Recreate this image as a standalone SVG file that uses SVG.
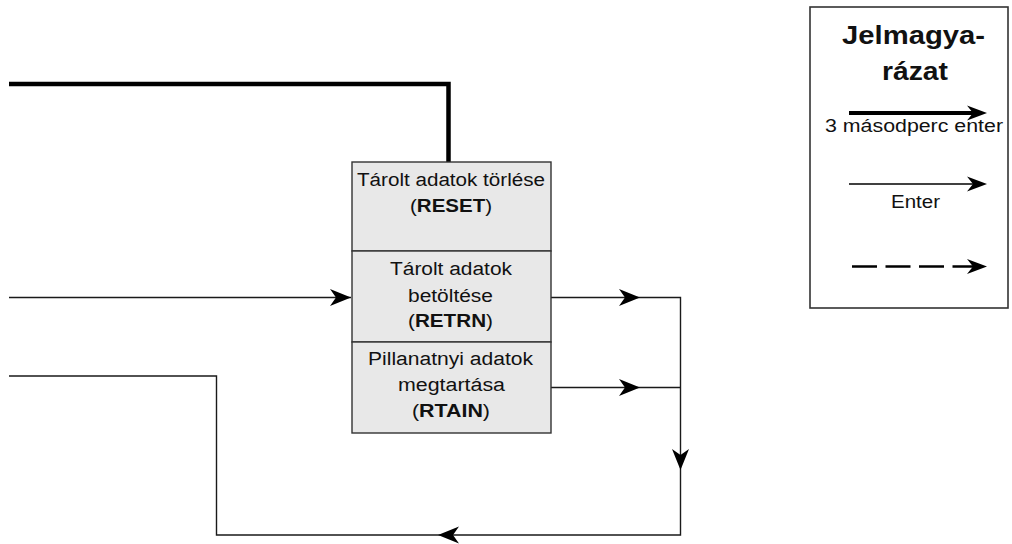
<svg xmlns="http://www.w3.org/2000/svg" xmlns:xlink="http://www.w3.org/1999/xlink" width="1012" height="544" viewBox="0 0 1012 544">
  <style>
    text { font-family: "Liberation Sans", Arial, Helvetica, sans-serif; fill: #111; }
    .lbl { font-size: 18px; }
    .leg { font-size: 17.5px; }
    .title { font-size: 25px; font-weight: bold; }
    b, .b { font-weight: bold; }
    .wire { fill: none; stroke: #1a1a1a; stroke-width: 1.4; }
    .thick { fill: none; stroke: #000; stroke-width: 4.5; }
    .cell { fill: #e8e8e8; stroke: #333; stroke-width: 1.4; }
  </style>
  <defs>
    <!-- notched arrowhead, tip at origin pointing +x -->
    <path id="head" d="M0,0 L-21,-8.5 L-15,0 L-21,8.5 Z" fill="#000"/>
    <path id="headS" d="M0,0 L-20,-7.5 L-14,0 L-20,7.5 Z" fill="#000"/>
  </defs>

  <rect width="1012" height="544" fill="#fff"/>

  <!-- connectors -->
  <g id="connectors">
    <polyline class="thick" points="9,84 448.5,84 448.5,162"/>
    <path class="wire" d="M9,297.5 H351"/>
    <path class="wire" d="M551,297.5 H680.5 V535 H216.5 V376 H9"/>
    <path class="wire" d="M551,387.5 H680.5"/>
    <use xlink:href="#head" transform="translate(351,297.5)"/>
    <use xlink:href="#head" transform="translate(640,297.5)"/>
    <use xlink:href="#head" transform="translate(640,387.5)"/>
    <use xlink:href="#head" transform="translate(680.5,470) rotate(90)"/>
    <use xlink:href="#head" transform="translate(438,535) rotate(180)"/>
  </g>

  <!-- register block -->
  <g id="reset">
    <rect class="cell" x="352" y="162" width="199" height="89"/>
    <text class="lbl" x="357" y="185.5" textLength="188" lengthAdjust="spacingAndGlyphs">Tárolt adatok törlése</text>
    <text class="lbl" x="410" y="212" textLength="82" lengthAdjust="spacingAndGlyphs">(<tspan class="b">RESET</tspan>)</text>
  </g>
  <g id="retrn">
    <rect class="cell" x="352" y="251" width="199" height="91"/>
    <text class="lbl" x="390" y="275" textLength="122" lengthAdjust="spacingAndGlyphs">Tárolt adatok</text>
    <text class="lbl" x="408" y="301.5" textLength="85" lengthAdjust="spacingAndGlyphs">betöltése</text>
    <text class="lbl" x="408" y="327" textLength="85" lengthAdjust="spacingAndGlyphs">(<tspan class="b">RETRN</tspan>)</text>
  </g>
  <g id="rtain">
    <rect class="cell" x="352" y="342" width="199" height="91"/>
    <text class="lbl" x="368" y="365" textLength="165" lengthAdjust="spacingAndGlyphs">Pillanatnyi adatok</text>
    <text class="lbl" x="398" y="390.5" textLength="107" lengthAdjust="spacingAndGlyphs">megtartása</text>
    <text class="lbl" x="412" y="417" textLength="78" lengthAdjust="spacingAndGlyphs">(<tspan class="b">RTAIN</tspan>)</text>
  </g>

  <!-- legend -->
  <g id="legend">
    <rect x="810" y="7" width="198" height="301" fill="#fff" stroke="#333" stroke-width="1.6"/>
    <text class="title" x="842" y="43.5" textLength="143" lengthAdjust="spacingAndGlyphs">Jelmagya-</text>
    <text class="title" x="882" y="80" textLength="66" lengthAdjust="spacingAndGlyphs">rázat</text>
    <line x1="849" y1="113" x2="975" y2="113" stroke="#000" stroke-width="4"/>
    <use xlink:href="#headS" transform="translate(987,113)"/>
    <text class="leg" x="825" y="132" textLength="178" lengthAdjust="spacingAndGlyphs">3 másodperc enter</text>
    <line x1="849" y1="184" x2="975" y2="184" stroke="#000" stroke-width="1.4"/>
    <use xlink:href="#headS" transform="translate(987,184)"/>
    <text class="leg" x="891" y="208" textLength="49" lengthAdjust="spacingAndGlyphs">Enter</text>
    <line x1="852" y1="266.5" x2="975" y2="266.5" stroke="#000" stroke-width="2.5" stroke-dasharray="25 8.5"/>
    <use xlink:href="#headS" transform="translate(987,266.5)"/>
  </g>
</svg>
